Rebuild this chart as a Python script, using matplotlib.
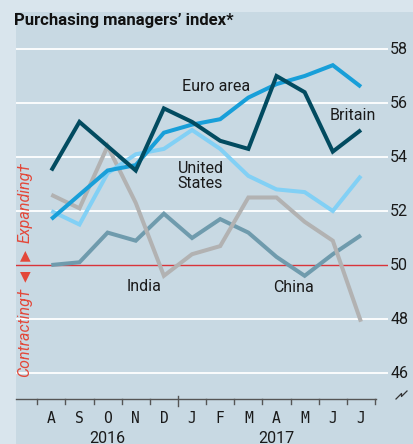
import matplotlib
matplotlib.use("Agg")
import matplotlib.pyplot as plt
from matplotlib.patches import Rectangle
from matplotlib.lines import Line2D

# ---- data ----
months = ['A', 'S', 'O', 'N', 'D', 'J', 'F', 'M', 'A', 'M', 'J', 'J']
years = ['2016', '2017']
britain = [53.5, 55.3, 54.4, 53.5, 55.8, 55.3, 54.6, 54.3, 57.0, 56.4, 54.2, 55.0]
euro_area = [51.7, 52.6, 53.5, 53.7, 54.9, 55.2, 55.4, 56.2, 56.7, 57.0, 57.4, 56.6]
united_states = [52.0, 51.5, 53.4, 54.1, 54.3, 55.0, 54.3, 53.3, 52.8, 52.7, 52.0, 53.3]
india = [52.6, 52.1, 54.4, 52.3, 49.6, 50.4, 50.7, 52.5, 52.5, 51.6, 50.9, 47.9]
china = [50.0, 50.1, 51.2, 50.9, 51.9, 51.0, 51.7, 51.2, 50.3, 49.6, 50.4, 51.1]
yticks = [46, 48, 50, 52, 54, 56, 58]

W, H = 413, 444
FONT = ['Roboto', 'DejaVu Sans']
plt.rcParams['font.family'] = FONT

OUTER = '#d9e5ed'
PANEL = '#c8d9e3'
RED = '#e3483a'

fig = plt.figure(figsize=(W / 100, H / 100), dpi=100)
fig.patch.set_facecolor(OUTER)


def fx(x):
    return x / W


def fy(y):
    return 1 - y / H


fig.patches.append(Rectangle((fx(16), 0), 1 - fx(16), fy(12), transform=fig.transFigure,
                             facecolor=PANEL, edgecolor='none', zorder=-5))

# axes region in pixels
L, R, T, B = 16, 388, 40, 399
ax = fig.add_axes([fx(L), fy(B), fx(R) - fx(L), fy(T) - fy(B)])
ax.set_facecolor('none')
ax.set_zorder(2)
step = 28.15
x0 = 51.3
ax.set_xlim((L - x0) / step, (R - x0) / step)
ax.set_ylim(50 - (B - 265) / 27.0, 50 + (265 - T) / 27.0)
for s in ax.spines.values():
    s.set_visible(False)
ax.set_xticks([])
ax.set_yticks([])

for v in yticks:
    if v == 50:
        ax.axhline(v, color='#d9343a', lw=1.0, zorder=1)
    else:
        ax.axhline(v, color='white', lw=1.3, zorder=1)
    ax.text(1.006, v, str(v), transform=ax.get_yaxis_transform(), ha='left', va='center',
            fontsize=11.5, color='#1a1a1a', clip_on=False)

xs = list(range(len(months)))
kw = dict(lw=2.9, solid_capstyle='butt', solid_joinstyle='miter', zorder=3)
ax.plot(xs, china, color='#6f9bad', **kw)
ax.plot(xs, india, color='#b2b2b2', **kw)
ax.plot(xs, united_states, color='#82d0f5', **kw)
ax.plot(xs, euro_area, color='#189fd9', **kw)
ax.plot(xs, britain, color='#024b60', **kw)

# series labels
lab = dict(fontsize=11.5, color='#1a1a1a', zorder=4)
ax.text(5.85, 56.6, 'Euro area', ha='center', va='center', **lab)
ax.text(10.7, 55.55, 'Britain', ha='center', va='center', **lab)
ax.text(5.3, 53.3, 'United\nStates', ha='center', va='center', linespacing=0.95, **lab)
ax.text(3.3, 49.2, 'India', ha='center', va='center', **lab)
ax.text(8.6, 49.15, 'China', ha='center', va='center', **lab)

# bottom axis line and ticks (drawn in figure pixels)
axis_col = '#555555'
fig.lines.append(Line2D([fx(16), fx(375.5)], [fy(399), fy(399)], transform=fig.transFigure,
                        color=axis_col, lw=1.0))
for i in range(len(months) + 1):
    xp = x0 + (i - 0.5) * step
    if i == 5:
        fig.lines.append(Line2D([fx(xp), fx(xp)], [fy(396), fy(406)], transform=fig.transFigure,
                                color=axis_col, lw=1.0))
    else:
        fig.lines.append(Line2D([fx(xp), fx(xp)], [fy(399), fy(403.5)], transform=fig.transFigure,
                                color=axis_col, lw=1.0))
for i, m in enumerate(months):
    fig.text(fx(x0 + i * step), fy(418), m, ha='center', va='center', fontsize=10.5,
             color='#1a1a1a', family=['DejaVu Sans Mono', 'DejaVu Sans'])
fig.text(fx(107), fy(438), years[0], ha='center', va='center', fontsize=11.5, color='#1a1a1a')
fig.text(fx(276), fy(438), years[1], ha='center', va='center', fontsize=11.5, color='#1a1a1a')

# axis break symbol
fig.lines.append(Line2D([fx(396), fx(401.5), fx(401.5), fx(407)],
                        [fy(399), fy(393.5), fy(396.5), fy(391)], transform=fig.transFigure,
                        color='#333333', lw=0.9))

# title
fig.text(fx(14), fy(20), 'Purchasing managers\u2019 index*', ha='left', va='center',
         fontsize=12, fontweight='bold', color='#111111')

# left annotation
fig.text(fx(25), fy(202), 'Expanding\u2020', rotation=90, ha='center', va='center',
         fontsize=11.5, style='italic', color=RED)
fig.text(fx(25), fy(332), 'Contracting\u2020', rotation=90, ha='center', va='center',
         fontsize=11.5, style='italic', color=RED)
fig.text(fx(25.5), fy(255), '\u25b2', ha='center', va='center', fontsize=10, color=RED,
         family=['DejaVu Sans'])
fig.text(fx(25.5), fy(276), '\u25bc', ha='center', va='center', fontsize=10, color=RED,
         family=['DejaVu Sans'])

fig.savefig('out.png', dpi=100, facecolor=fig.get_facecolor())
